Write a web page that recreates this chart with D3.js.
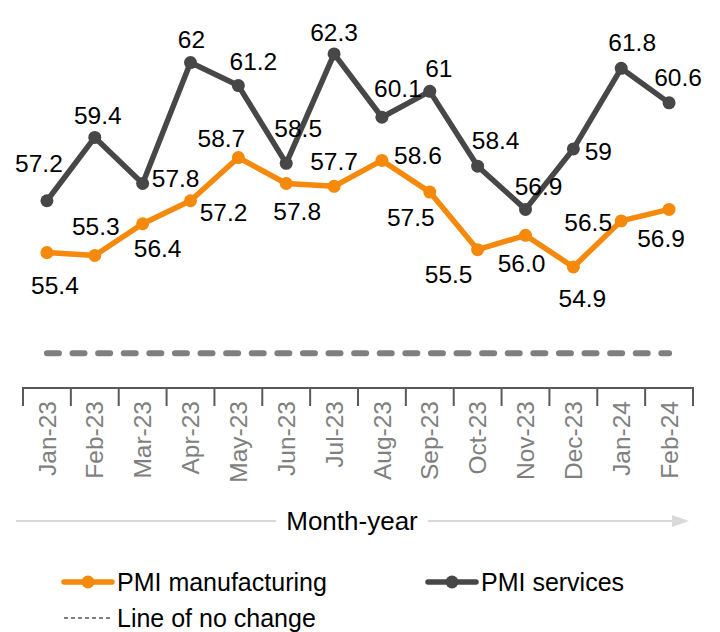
<!DOCTYPE html>
<html>
<head>
<meta charset="utf-8">
<script src="https://cdn.jsdelivr.net/npm/d3@7"></script>
<style>
  body { margin: 0; background: #fff; }
  svg { display: block; font-family: "Liberation Sans", Arial, Helvetica, sans-serif; }
</style>
</head>
<body>
<svg id="chart" width="720" height="632"></svg>
<script>
const months = ['Jan-23','Feb-23','Mar-23','Apr-23','May-23','Jun-23','Jul-23',
                'Aug-23','Sep-23','Oct-23','Nov-23','Dec-23','Jan-24','Feb-24'];
const pmiManufacturing = [55.4, 55.3, 56.4, 57.2, 58.7, 57.8, 57.7, 58.6, 57.5, 55.5, 56.0, 54.9, 56.5, 56.9];
const pmiServices = [57.2, 59.4, 57.8, 62, 61.2, 58.5, 62.3, 60.1, 61, 58.4, 56.9, 59, 61.8, 60.6];
const noChangeLevel = 51.9;

// where each value label sits relative to its point (dx, dy)
const servicesLabelPos = [[-8,-37],[3,-22],[33,-5],[1,-23],[15,-24],[12,-35],[0,-22],
                          [16,-29],[9,-23],[18,-26],[13,-23],[25,2],[11,-26],[9,-25]];
const manufLabelPos = [[8,33],[1,-29],[15,25],[33,12],[-17,-19],[11,28],[0,-25],
                       [36,-5],[-19,25],[-29,25],[-4,28],[9,31],[-33,2],[-8,29]];

const orange = '#f5890b',
      darkGray = '#474747',
      midGray = '#7f7f7f';

const svg = d3.select('#chart');

const x = d3.scaleBand().domain(months).range([23, 693]);
const y = d3.scaleLinear().domain([50, 64]).range([408, 5]);
const cx = d => x(d) + x.bandwidth() / 2;

// line of no change
svg.append('line')
  .attr('x1', cx(months[0]))
  .attr('x2', cx(months[months.length - 1]))
  .attr('y1', y(noChangeLevel))
  .attr('y2', y(noChangeLevel))
  .attr('stroke', midGray)
  .attr('stroke-width', 6)
  .attr('stroke-linecap', 'round')
  .attr('stroke-dasharray', '12 13.6');

// x axis (ticks between categories)
const axisY = 388;
const gx = svg.append('g').attr('transform', `translate(0,${axisY})`);
gx.append('line')
  .attr('x1', x.range()[0]).attr('x2', x.range()[1])
  .attr('stroke', '#595959').attr('stroke-width', 2);

const bounds = months.map(m => x(m)).concat([x.range()[1]]);
gx.selectAll('.tick-mark')
  .data(bounds)
  .join('line')
  .attr('class', 'tick-mark')
  .attr('x1', d => d).attr('x2', d => d)
  .attr('y1', -1).attr('y2', 18)
  .attr('stroke', '#595959').attr('stroke-width', 2);

gx.selectAll('.tick-label')
  .data(months)
  .join('text')
  .attr('class', 'tick-label')
  .attr('transform', d => `translate(${cx(d)},13) rotate(-90)`)
  .attr('dy', '0.35em')
  .attr('text-anchor', 'end')
  .attr('fill', midGray)
  .attr('font-size', 24.5)
  .text(d => d);

// axis title with arrow
const titleY = 521;
svg.append('line')
  .attr('x1', 16).attr('x2', 276).attr('y1', titleY).attr('y2', titleY)
  .attr('stroke', '#d9d9d9').attr('stroke-width', 2);
svg.append('line')
  .attr('x1', 428).attr('x2', 674).attr('y1', titleY).attr('y2', titleY)
  .attr('stroke', '#d9d9d9').attr('stroke-width', 2);
svg.append('path')
  .attr('d', `M672,${titleY - 6}L689,${titleY}L672,${titleY + 6}Z`)
  .attr('fill', '#d9d9d9');
svg.append('text')
  .attr('x', 352).attr('y', titleY)
  .attr('dy', '0.35em')
  .attr('text-anchor', 'middle')
  .attr('font-size', 26)
  .attr('fill', '#000')
  .text('Month-year');

// series
const series = [
  { name: 'PMI manufacturing', values: pmiManufacturing, color: orange,
    pos: manufLabelPos, fmt: v => v.toFixed(1) },
  { name: 'PMI services', values: pmiServices, color: darkGray,
    pos: servicesLabelPos, fmt: v => String(v) }
];

const line = d3.line()
  .x((d, i) => cx(months[i]))
  .y(d => y(d));

series.forEach(function(s){
  const g = svg.append('g');
  g.append('path')
    .datum(s.values)
    .attr('d', line)
    .attr('fill', 'none')
    .attr('stroke', s.color)
    .attr('stroke-width', 5.5)
    .attr('stroke-linejoin', 'round');

  g.selectAll('circle')
    .data(s.values)
    .join('circle')
    .attr('cx', (d, i) => cx(months[i]))
    .attr('cy', d => y(d))
    .attr('r', 6.5)
    .attr('fill', s.color);
});

series.forEach(function(s){
  svg.append('g').selectAll('text')
    .data(s.values)
    .join('text')
    .attr('x', (d, i) => cx(months[i]) + s.pos[i][0])
    .attr('y', (d, i) => y(d) + s.pos[i][1])
    .attr('dy', '0.35em')
    .attr('text-anchor', 'middle')
    .attr('font-size', 24.5)
    .attr('fill', '#000')
    .text(d => s.fmt(d));
});

// legend
const legend = svg.append('g');
const legendItems = [
  { label: 'PMI manufacturing', color: orange, x: 64, y: 582, type: 'marker' },
  { label: 'PMI services', color: darkGray, x: 428, y: 582, type: 'marker' },
  { label: 'Line of no change', color: midGray, x: 64, y: 618, type: 'dash' }
];

legendItems.forEach(function(item){
  const g = legend.append('g').attr('transform', `translate(${item.x},${item.y})`);
  if(item.type == 'marker'){
    g.append('line')
      .attr('x1', 0).attr('x2', 48)
      .attr('stroke', item.color).attr('stroke-width', 5.5)
      .attr('stroke-linecap', 'round');
    g.append('circle').attr('cx', 24).attr('r', 6.5).attr('fill', item.color);
  }
  else{
    g.append('line')
      .attr('x1', 0).attr('x2', 49)
      .attr('stroke', item.color).attr('stroke-width', 2)
      .attr('stroke-dasharray', '4 3');
  }
  g.append('text')
    .attr('x', 53)
    .attr('dy', '0.35em')
    .attr('font-size', 25)
    .attr('fill', '#000')
    .text(item.label);
});
</script>
</body>
</html>
